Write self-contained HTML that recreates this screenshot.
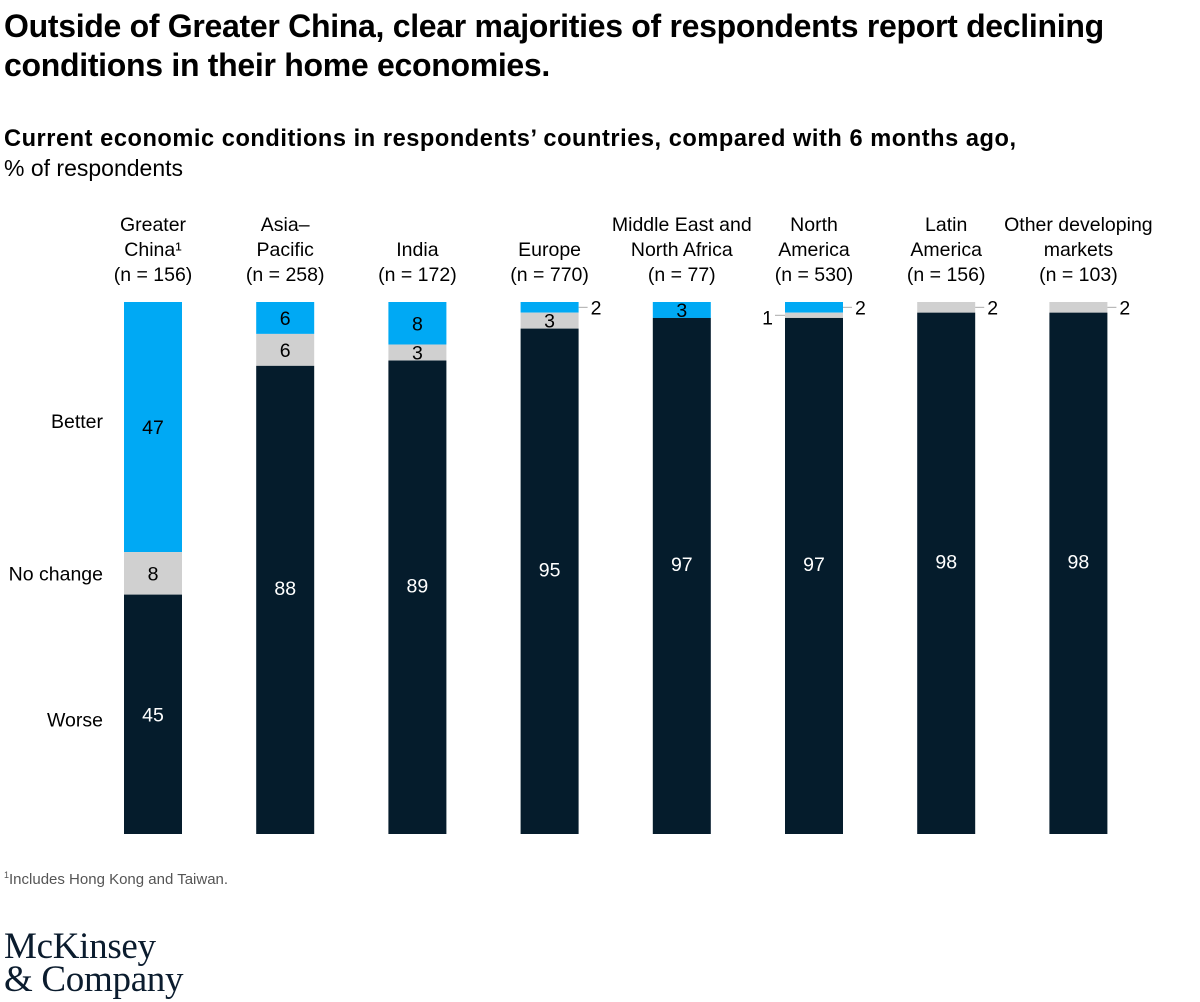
<!DOCTYPE html>
<html><head><meta charset="utf-8"><style>
body{margin:0;width:1200px;height:1002px;background:#fff;font-family:"Liberation Sans",sans-serif;color:#000;position:relative;overflow:hidden}
.t{position:absolute;left:4px;top:7px;font-size:32px;font-weight:bold;line-height:39px;letter-spacing:-0.3px}
.s{position:absolute;left:4px;top:124px;font-size:23px;line-height:29px}
.s b{font-size:23.6px;letter-spacing:0.55px}
.fn{position:absolute;left:4px;top:870px;font-size:15px;color:#555}
.logo{position:absolute;left:4px;top:930px;font-family:"Liberation Serif",serif;font-size:37px;line-height:33px;color:#0b1c2e;letter-spacing:-0.3px}
</style></head><body>
<div class="t">Outside of Greater China, clear majorities of respondents report declining<br>conditions in their home economies.</div>
<div class="s"><b>Current economic conditions in respondents’ countries, compared with 6 months ago,</b><br>% of respondents</div>
<svg id="c" width="1200" height="1002" style="position:absolute;left:0;top:0"></svg>
<div class="fn"><sup style="font-size:9px">1</sup>Includes Hong Kong and Taiwan.</div>
<div class="logo">McKinsey<br>&amp; Company</div>
<script>
const categories=[["Greater","China¹","(n = 156)"],["Asia–","Pacific","(n = 258)"],["India","(n = 172)"],["Europe","(n = 770)"],["Middle East and","North Africa","(n = 77)"],["North","America","(n = 530)"],["Latin","America","(n = 156)"],["Other developing","markets","(n = 103)"]];
const better=[47,6,8,2,3,2,0,0];
const noChange=[8,6,3,3,0,1,2,2];
const worse=[45,88,89,95,97,97,98,98];
const rowLabels=["Better","No change","Worse"];
const NS="http://www.w3.org/2000/svg",svg=document.getElementById('c');
const top0=302,bot=834,ph=(bot-top0)/100;
const x=i=>124+i*132.2,bw=58;
const y=p=>top0+p*ph;
function el(t,a,txt){const e=document.createElementNS(NS,t);for(const k in a)e.setAttribute(k,a[k]);if(txt!=null)e.textContent=txt;svg.appendChild(e);return e;}
const colors=["#00a9f4","#d0d0d0","#051c2c"];
categories.forEach((c,i)=>{
 const cx=x(i)+bw/2;
 const n=c.length;
 c.forEach((l,j)=>{const t=el('text',{x:cx,y:281-(n-1-j)*25,'text-anchor':'middle','font-size':19.5});
  t.textContent=l;});
 const vals=[better[i],noChange[i],worse[i]];
 let acc=0;
 vals.forEach((v,k)=>{
  if(v<=0)return;
  const r=el('rect',{x:x(i),y:y(acc),width:bw,height:v*ph,fill:colors[k]});
  
  const mid=y(acc+v/2);
  let tx=cx,anchor='middle',ty=mid+7;
  if(k==2&&i>0)ty-=12;
  if(v<=2 && !(k==1&&i==5)){tx=x(i)+bw+12;anchor='start';ty=mid+7;
   const ln=el('line',{x1:x(i)+bw,x2:x(i)+bw+9,y1:mid,y2:mid,stroke:'#aaa','stroke-width':1});}
  else if(v<=2){tx=x(i)-12;anchor='end';ty=mid+9;
   const ln=el('line',{x1:x(i)-10,x2:x(i),y1:mid,y2:mid,stroke:'#aaa','stroke-width':1});}
  const t=el('text',{x:tx,y:ty,'text-anchor':anchor,'font-size':19.5,fill:(k==2&&v>2)?'#fff':'#000'},String(v));
  
  acc+=v;
 });
});
const gcMid=[y(better[0]/2)-6,y(better[0]+noChange[0]/2),y(better[0]+noChange[0]+worse[0]/2)+5];
rowLabels.forEach((l,k)=>{const t=el('text',{x:103,y:gcMid[k]+7,'text-anchor':'end','font-size':19.5},l);
 });
</script>
</body></html>
